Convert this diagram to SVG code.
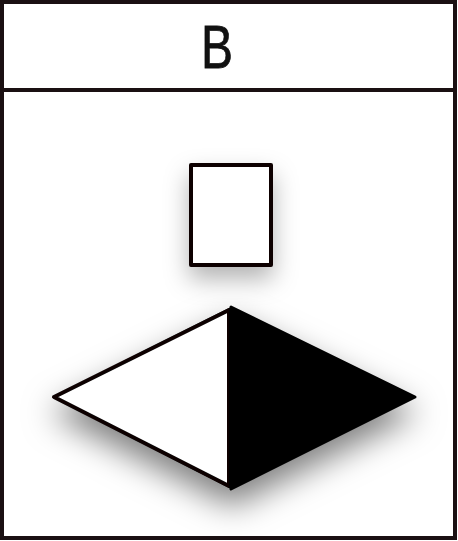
<svg xmlns="http://www.w3.org/2000/svg" width="458" height="541" viewBox="0 0 458 541">
  <defs>
    <style>
      .frame { fill: #ffffff; stroke: #1a1012; stroke-width: 4; }
      .line { stroke: #1a1012; stroke-width: 4; fill: none; }
      .shape { fill: #ffffff; stroke: #0a0606; stroke-width: 4; stroke-linejoin: round; }
      .label { font-family: "Liberation Sans", Arial, sans-serif; font-size: 62px; fill: #111111; text-anchor: middle; stroke: #111111; stroke-width: 0.8; }
    </style>
    <filter id="shadow" x="-40%" y="-40%" width="180%" height="200%">
      <feDropShadow dx="0" dy="16" stdDeviation="16" flood-color="#000000" flood-opacity="0.5"/>
    </filter>
    <filter id="shadowSmall" x="-60%" y="-60%" width="220%" height="220%">
      <feDropShadow dx="0" dy="12" stdDeviation="12" flood-color="#000000" flood-opacity="0.3"/>
    </filter>
  </defs>
  <rect x="0" y="0" width="458" height="541" fill="#ffffff"/>
  <g id="frame">
    <rect class="frame" x="2" y="2" width="453" height="536"/>
    <line class="line" x1="2" y1="90" x2="455" y2="90"/>
  </g>
  <g id="title">
    <text class="label" x="217" y="68" textLength="32" lengthAdjust="spacingAndGlyphs">B</text>
  </g>
  <g id="box">
    <rect class="shape" x="191" y="165" width="80" height="100" filter="url(#shadowSmall)"/>
  </g>
  <g id="diamond" filter="url(#shadow)">
    <polygon points="52,397 231,307 415,397 231,489" fill="#000000"/>
    <polygon class="shape" points="54,397 229,310 229,486"/>
    <polygon points="231,307 415,397 231,489" fill="#000000" stroke="#000000" stroke-width="3" stroke-linejoin="round"/>
  </g>
  <g id="connectors"></g>
</svg>
